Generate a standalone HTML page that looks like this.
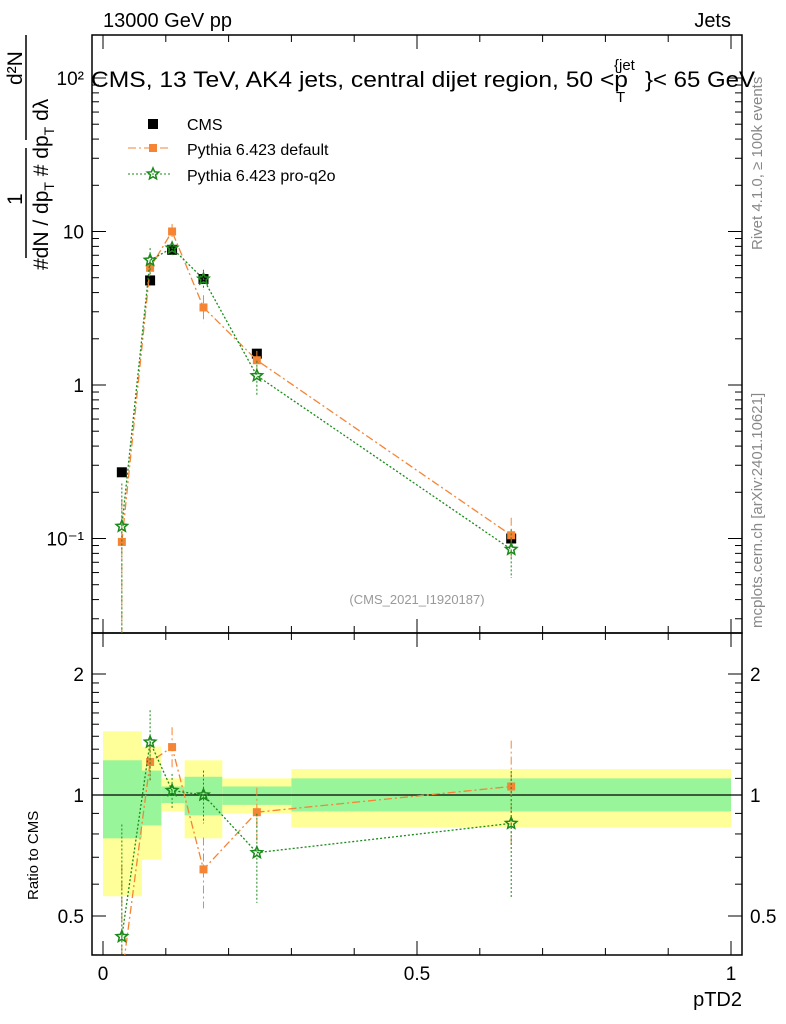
<!DOCTYPE html>
<html><head><meta charset="utf-8"><style>
html,body{margin:0;padding:0;background:#fff;overflow:hidden;width:786px;height:1024px;}
svg{display:block;}
svg text{font-family:"Liberation Sans",sans-serif;}
</style></head><body>
<svg id="c" width="786" height="1024" xmlns="http://www.w3.org/2000/svg">
<text x="103" y="27" font-size="20">13000 GeV pp</text>
<text x="731" y="27" font-size="20" text-anchor="end">Jets</text>
<g>
<text x="91" y="87" font-size="22" textLength="537" lengthAdjust="spacingAndGlyphs">CMS, 13 TeV, AK4 jets, central dijet region, 50 &lt;p</text>
<text x="616" y="102" font-size="15">T</text>
<text x="614" y="70" font-size="15">{jet</text>
<text x="645" y="87" font-size="22" textLength="110" lengthAdjust="spacingAndGlyphs">}&lt; 65 GeV</text>
</g>
<text x="417" y="604" font-size="13" fill="#999" text-anchor="middle">(CMS_2021_I1920187)</text>
<text transform="translate(762,250) rotate(-90)" font-size="15" fill="#888">Rivet 4.1.0, ≥ 100k events</text>
<text transform="translate(762,628) rotate(-90)" font-size="15" fill="#888">mcplots.cern.ch [arXiv:2401.10621]</text>
<g>
<text transform="translate(48,270) rotate(-90)" font-size="21">#dN / dp<tspan font-size="14" dy="6">T</tspan><tspan dy="-6"> # dp</tspan><tspan font-size="14" dy="6">T</tspan><tspan dy="-6"> dλ</tspan></text>
<text transform="translate(22,205) rotate(-90)" font-size="21">1</text>
<text transform="translate(22,85) rotate(-90)" font-size="21">d²N</text>
<line x1="26" x2="26" y1="258" y2="148" stroke="#000" stroke-width="1.5"/>
<line x1="26" x2="26" y1="140" y2="35" stroke="#000" stroke-width="1.5"/>
</g>
<text transform="translate(38,900) rotate(-90)" font-size="15">Ratio to CMS</text>
<text x="742" y="1006" font-size="20" text-anchor="end">pTD2</text>
<g id="g"></g>
</svg>
<script>
const edges=[0,0.062,0.093,0.13,0.19,0.3,1.0];
const xs=[0.03,0.075,0.11,0.16,0.245,0.65];
const cms=[0.27,4.8,7.6,4.9,1.6,0.10];
const pyDef=[0.095,5.8,10.0,3.2,1.45,0.105];
const pyDefErr=[0.9,0.1,0.12,0.2,0.15,0.3];
const pyQ2o=[0.12,6.5,7.8,4.9,1.15,0.085];
const pyQ2oErr=[0.9,0.2,0.1,0.15,0.25,0.35];
const bandInnerUp=[1.22,1.15,1.05,1.11,1.05,1.10];
const bandInnerDn=[0.78,0.84,0.955,0.89,0.945,0.91];
const bandOuterUp=[1.44,1.32,1.10,1.22,1.10,1.16];
const bandOuterDn=[0.56,0.69,0.91,0.78,0.90,0.83];
const xTicks=[0,0.5,1];
const xTickLabels=["0","0.5","1"];
const yTicks=[100,10,1,0.1];
const yTickLabels=["10²","10","1","10⁻¹"];
const rTicks=[2,1,0.5];
const rTickLabels=["2","1","0.5"];
const NS="http://www.w3.org/2000/svg",G=document.getElementById('g');
const L=92,R=742,T=35,MB=633,RB=955;
const X=v=>103+v*628;
const Y=v=>385-Math.log10(v)*153.5;
const RY=v=>795-Math.log2(v)*121;
function mk(t,a,p){const e=document.createElementNS(NS,t);for(const k in a)e.setAttribute(k,a[k]);(p||G).appendChild(e);return e;}
for(let i=0;i<6;i++){
 let r=mk('rect',{x:X(edges[i]),y:RY(bandOuterUp[i]),width:X(edges[i+1])-X(edges[i]),height:RY(bandOuterDn[i])-RY(bandOuterUp[i]),fill:'#ffff99'});
 
 
 r=mk('rect',{x:X(edges[i]),y:RY(bandInnerUp[i]),width:X(edges[i+1])-X(edges[i]),height:RY(bandInnerDn[i])-RY(bandInnerUp[i]),fill:'#99f599'});
 
 
}
mk('line',{x1:L,x2:R,y1:RY(1),y2:RY(1),stroke:'#000','stroke-width':1.2});
for(const [t,b] of [[T,MB],[MB,RB]]){const f=mk('rect',{x:L,y:t,width:R-L,height:b-t,fill:'none',stroke:'#000','stroke-width':1.5});
 
 }
for(let v=0;v<=1.0001;v+=0.1){const big=Math.abs(v*2-Math.round(v*2))<1e-6;const h=big?14:7;
 for(const [t,b] of [[T,MB],[MB,RB]]){mk('line',{x1:X(v),x2:X(v),y1:b,y2:b-h,stroke:'#000'});mk('line',{x1:X(v),x2:X(v),y1:t,y2:t+h,stroke:'#000'});}}
xTicks.forEach((v,i)=>{const t=mk('text',{x:X(v),y:980,'font-size':19,'text-anchor':'middle'});t.textContent=xTickLabels[i];
 
 });
for(let d=-2;d<=2;d++)for(let m=1;m<10;m++){const v=m*Math.pow(10,d);const y=Y(v);if(y<T||y>MB)continue;const h=m==1?14:7;
 mk('line',{x1:L,x2:L+h,y1:y,y2:y,stroke:'#000'});mk('line',{x1:R,x2:R-h,y1:y,y2:y,stroke:'#000'});}
yTicks.forEach((v,i)=>{const t=mk('text',{x:84,y:Y(v)+7,'font-size':19,'text-anchor':'end'});t.textContent=yTickLabels[i];
 
 });
for(let v=0.4;v<=2.5;v+=(v<2?0.1:0.5)){const y=RY(v);if(y<MB||y>RB)continue;const big=[0.5,1,2].some(k=>Math.abs(k-v)<1e-6);const h=big?14:7;
 mk('line',{x1:L,x2:L+h,y1:y,y2:y,stroke:'#000'});mk('line',{x1:R,x2:R-h,y1:y,y2:y,stroke:'#000'});}
rTicks.forEach((v,i)=>{for(const [x,a] of [[84,'end'],[750,'start']]){const t=mk('text',{x:x,y:RY(v)+7,'font-size':19,'text-anchor':a});t.textContent=rTickLabels[i];
 
 }});
const defs=mk('defs',{});
let cp=mk('clipPath',{id:'cm'},defs);mk('rect',{x:L,y:T,width:R-L,height:MB-T},cp);
cp=mk('clipPath',{id:'cr'},defs);mk('rect',{x:L,y:MB,width:R-L,height:RB-MB},cp);
const gm=mk('g',{'clip-path':'url(#cm)'}),gr=mk('g',{'clip-path':'url(#cr)'});
function star(cx,cy,r,col,p){let s='';for(let k=0;k<10;k++){const a=-Math.PI/2+k*Math.PI/5,rr=k%2?r*0.45:r;s+=(cx+rr*Math.cos(a))+','+(cy+rr*Math.sin(a))+' ';}
 return mk('polygon',{points:s,fill:'none',stroke:col,'stroke-width':1.5},p);}
function series(vals,errs,col,dash,kind,nm){
 const pm=vals.map((v,i)=>X(xs[i])+','+Y(v)).join(' ');
 let l=mk('polyline',{points:pm,fill:'none',stroke:col,'stroke-width':1.3,'stroke-dasharray':dash},gm);
 
 
 const pr=vals.map((v,i)=>X(xs[i])+','+RY(v/cms[i])).join(' ');
 l=mk('polyline',{points:pr,fill:'none',stroke:col,'stroke-width':1.3,'stroke-dasharray':dash},gr);
 
 
 vals.forEach((v,i)=>{const x=X(xs[i]);const e=errs[i];
  mk('line',{x1:x,x2:x,y1:Y(v*(1+e)),y2:Y(Math.max(v*(1-e),1e-4)),stroke:col,'stroke-dasharray':dash},gm);
  const r=v/cms[i];mk('line',{x1:x,x2:x,y1:RY(r*(1+e)),y2:RY(Math.max(r*(1-e),1e-3)),stroke:col,'stroke-dasharray':dash},gr);
  for(const [yy,p] of [[Y(v),gm],[RY(r),gr]]){let m;
   if(kind=='sq')m=mk('rect',{x:x-4,y:yy-4,width:8,height:8,fill:col},p);else m=star(x,yy,6,col,p);
   
   }
 });
}
cms.forEach((v,i)=>{const m=mk('rect',{x:X(xs[i])-5,y:Y(v)-5,width:10,height:10,fill:'#000'},gm);
 
 });
series(pyDef,pyDefErr,'#f58535','8,3,2,3','sq','pythia-default');
series(pyQ2o,pyQ2oErr,'#1a8a1a','2,2','star','pythia-pro-q2o');
let lg=mk('g',{});
mk('rect',{x:148,y:119,width:10,height:10,fill:'#000'},lg);
mk('line',{x1:128,x2:170,y1:148,y2:148,stroke:'#f58535','stroke-dasharray':'8,3,2,3'},lg);mk('rect',{x:149,y:144,width:8,height:8,fill:'#f58535'},lg);
mk('line',{x1:128,x2:170,y1:174,y2:174,stroke:'#1a8a1a','stroke-dasharray':'2,2'},lg);star(153,174,6,'#1a8a1a',lg);
[['CMS',130],['Pythia 6.423 default',155],['Pythia 6.423 pro-q2o',181]].forEach(([s,y])=>{const t=mk('text',{x:187,y:y,'font-size':16},lg);t.textContent=s;
 
 });
</script>
</body></html>
